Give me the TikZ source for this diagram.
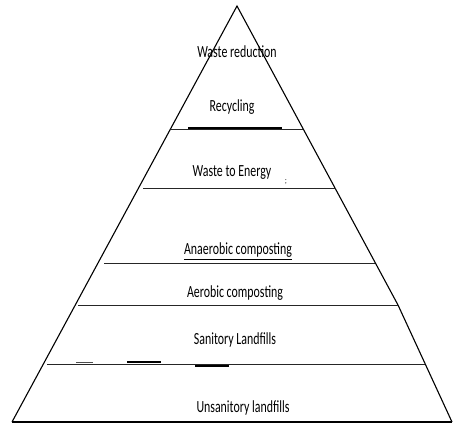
\documentclass[tikz,border=0pt]{standalone}
\usepackage{fontspec}
\setmainfont{Carlito}[FakeStretch=0.7]
\usetikzlibrary{calc}
\tikzset{
  lvl/.style={inner sep=0pt, anchor=center, font=\fontsize{17}{19}\selectfont},
  side/.style={line width=1.1pt, black},
  tier/.style={line width=0.9pt, black!85},
  heavystroke/.style={line width=1.2pt, black}
}
\begin{document}
\begin{tikzpicture}[x=1pt,y=-1pt]
\useasboundingbox (0,0) rectangle (453,425);
% outline
\coordinate (apex) at (237,6);
\coordinate (bl) at (12,422);
\coordinate (rm) at (398,305);
\coordinate (br) at (452,422);
\draw[side] (bl) -- (apex) -- (rm) -- (br);
\draw[side] (bl) -- (br);
% tier lines
\coordinate (l1) at (171,129); \coordinate (r1) at (303,129);
\coordinate (l2) at (143,188); \coordinate (r2) at (336,188);
\coordinate (l3) at (104,263); \coordinate (r3) at (375,263);
\coordinate (l4) at (78,305);  \coordinate (r4) at (398,305);
\coordinate (l5) at (47,364);  \coordinate (r5) at (425,364);
\draw[tier] (l1) -- (r1);
\draw[tier] (l2) -- (r2);
\draw[tier] (l3) -- (r3);
\draw[tier] (l4) -- (r4);
\draw[tier] (l5) -- (r5);
% extra thick strokes
\coordinate (t1a) at (188,128); \coordinate (t1b) at (282,128);
\draw[heavystroke] (t1a) -- (t1b);
\coordinate (d1a) at (76,362); \coordinate (d1b) at (93,362);
\coordinate (d2a) at (127,362); \coordinate (d2b) at (161,362);
\coordinate (d3a) at (195,366); \coordinate (d3b) at (229,366);
\draw[line width=0.8pt, black!70] (d1a) -- (d1b);
\draw[heavystroke] (d2a) -- (d2b);
\draw[heavystroke] (d3a) -- (d3b);
% labels
\node[lvl] (n1) at (237,52) {Waste reduction};
\node[lvl] (n2) at (232,107) {Recycling};
\node[lvl] (n3) at (232,173) {Waste to Energy};
\node[lvl, font=\fontsize{9}{10}\selectfont] (n3b) at (286,182) {;};
\node[lvl] (n4) at (238,250) {Anaerobic composting};
\coordinate (u1) at ($(n4.south west)+(0,2)$);
\coordinate (u2) at ($(n4.south east)+(0,2)$);
\draw[line width=0.7pt] (u1) -- (u2);
\node[lvl] (n5) at (235,293) {Aerobic composting};
\node[lvl] (n6) at (235,340) {Sanitory Landfills};
\node[lvl] (n7) at (243,408) {Unsanitory landfills};
\end{tikzpicture}
\end{document}
